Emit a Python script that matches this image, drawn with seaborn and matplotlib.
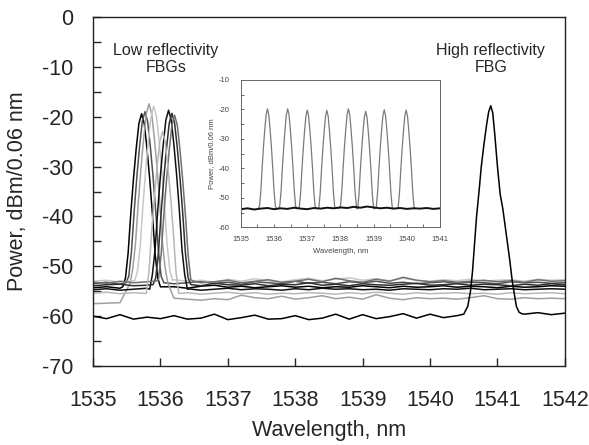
import numpy as np
import pandas as pd
import matplotlib
matplotlib.use("Agg")
import matplotlib.pyplot as plt
from matplotlib.ticker import MultipleLocator
import seaborn as sns

sns.set_style("ticks")
plt.rcParams['font.family'] = ['Liberation Sans', 'DejaVu Sans']
plt.rcParams['axes.unicode_minus'] = False

# --- data ---
# wavelength grid for the baselines of the main plot (nm)
grid = [1535.0, 1535.2, 1535.4, 1535.6, 1535.8, 1536.0, 1536.2, 1536.4, 1536.6,
        1536.8, 1537.0, 1537.2, 1537.4, 1537.6, 1537.8, 1538.0, 1538.2, 1538.4,
        1538.6, 1538.8, 1539.0, 1539.2, 1539.4, 1539.6, 1539.8, 1540.0, 1540.2,
        1540.4, 1540.6, 1540.8, 1541.0, 1541.2, 1541.4, 1541.6, 1541.8, 1542.0]

# peak shape of a low reflectivity FBG: offset from centre (nm), dB below apex
peak_dx = [-0.28, -0.24, -0.20, -0.16, -0.12, -0.08, -0.04, 0.0,
           0.04, 0.08, 0.12, 0.16, 0.20, 0.24, 0.28]
peak_drop = [36, 33, 28, 20, 13, 7, 2, 0, 2, 7, 13, 20, 28, 33, 36]

# low reflectivity FBG traces
lr_names = ['t1', 't2', 't3', 't4', 't5', 't6', 't7', 't8']
lr_centre = [1535.72, 1535.77, 1535.83, 1535.90, 1536.12, 1536.17, 1536.21, 1536.03]
lr_apex = [-19.4, -19.0, -17.4, -17.9, -18.7, -19.3, -19.7, -23.0]
lr_color = ['#000000', '#505050', '#a0a0a0', '#c8c8c8', '#101010', '#303030', '#707070', '#b8b8b8']

base_t1 = [-54.3, -54.1, -54.4, -54.2, -54.0, -54.3, -54.1, -54.4, -54.0, -53.8, -54.2, -54.0,
           -54.3, -54.1, -53.9, -54.2, -54.0, -54.3, -54.1, -54.2, -53.9, -54.1, -54.3, -54.0,
           -54.2, -54.1, -53.9, -54.2, -54.0, -54.1, -54.3, -54.0, -54.2, -54.1, -53.9, -54.0]
base_t2 = [-53.5, -53.2, -53.6, -53.3, -53.4, -53.1, -53.5, -53.3, -53.0, -53.4, -53.2, -53.6,
           -53.1, -53.3, -53.5, -53.0, -53.4, -53.2, -53.5, -53.1, -53.3, -53.0, -53.4, -53.2,
           -53.5, -53.3, -53.1, -53.4, -53.2, -53.3, -53.5, -53.1, -53.3, -53.2, -53.4, -53.3]
base_t3 = [-57.5, -57.4, -57.3, -57.4, -56.6, -56.2, -56.4, -56.6, -56.8, -56.5, -56.7, -55.8,
           -56.3, -56.5, -56.0, -56.6, -56.3, -55.9, -56.5, -56.2, -56.6, -55.7, -56.4, -56.7,
           -56.3, -56.5, -56.4, -56.6, -56.3, -55.9, -56.5, -56.6, -56.3, -56.5, -56.4, -56.5]
base_t4 = [-53.0, -52.8, -53.2, -52.9, -53.0, -53.1, -52.7, -53.0, -52.8, -53.2, -52.6, -53.0,
           -52.5, -52.9, -53.1, -52.7, -52.4, -52.9, -52.6, -52.3, -52.8, -52.5, -52.9, -52.4,
           -52.8, -53.0, -52.7, -52.9, -52.6, -53.0, -52.8, -52.7, -53.0, -52.6, -52.8, -52.7]
base_t5 = [-54.7, -54.5, -54.8, -54.6, -54.4, -54.7, -54.6, -54.5, -54.8, -54.6, -54.4, -54.7,
           -54.5, -54.6, -54.8, -54.5, -54.7, -54.4, -54.6, -54.5, -54.7, -54.6, -54.8, -54.5,
           -54.6, -54.7, -54.5, -54.6, -54.4, -54.7, -54.6, -54.5, -54.7, -54.6, -54.5, -54.6]
base_t6 = [-53.9, -53.7, -53.6, -53.9, -53.8, -53.5, -53.8, -53.6, -53.9, -53.4, -53.7, -53.8,
           -53.5, -53.9, -53.6, -53.7, -53.3, -53.8, -53.6, -53.9, -53.5, -53.7, -53.8, -53.6,
           -53.4, -53.8, -53.7, -53.5, -53.8, -53.6, -53.7, -53.9, -53.6, -53.8, -53.5, -53.7]
base_t7 = [-53.2, -53.4, -53.0, -53.3, -53.1, -53.4, -53.2, -52.9, -53.3, -53.1, -52.8, -53.3,
           -53.0, -52.7, -53.2, -53.0, -52.6, -53.1, -52.4, -52.9, -53.2, -52.6, -53.0, -52.2,
           -52.8, -53.1, -52.9, -53.2, -53.0, -52.8, -53.1, -52.9, -53.2, -52.7, -53.0, -52.9]
base_t8 = [-55.4, -55.2, -55.5, -55.3, -55.4, -55.6, -55.5, -55.3, -55.6, -55.4, -55.2, -55.5,
           -55.3, -55.6, -55.4, -55.5, -55.3, -55.4, -55.6, -55.3, -55.5, -55.2, -55.4, -55.6,
           -55.3, -55.5, -55.4, -55.3, -55.5, -55.4, -55.6, -55.3, -55.5, -55.4, -55.3, -55.5]
lr_bases = [base_t1, base_t2, base_t3, base_t4, base_t5, base_t6, base_t7, base_t8]

# high reflectivity FBG trace
base_hr = [-60.0, -60.5, -59.7, -60.6, -60.2, -60.5, -59.9, -60.6, -60.4, -59.6, -60.7, -60.3,
           -59.8, -60.6, -60.5, -59.9, -60.7, -60.4, -59.6, -60.6, -59.7, -60.5, -60.1, -59.5,
           -60.4, -59.6, -60.3, -59.9, -59.6, -59.6, -59.6, -59.6, -59.6, -59.3, -59.7, -59.4]
hr_x = [1540.50, 1540.56, 1540.60, 1540.63, 1540.66, 1540.69, 1540.73, 1540.76, 1540.80,
        1540.84, 1540.87, 1540.90, 1540.93, 1540.96, 1541.00, 1541.04, 1541.08, 1541.10,
        1541.14, 1541.18, 1541.22, 1541.25, 1541.28, 1541.32, 1541.36]
hr_y = [-59.6, -58.0, -55.0, -51.0, -45.5, -40.0, -34.5, -30.0, -25.5, -21.5, -19.0, -17.8,
        -19.2, -23.5, -30.0, -35.5, -38.5, -40.5, -44.5, -48.5, -53.0, -55.5, -58.0, -59.2, -59.5]

# inset: eight FBGs
in_grid = [1535.0, 1535.2, 1535.4, 1535.6, 1535.8, 1536.0, 1536.2, 1536.4, 1536.6, 1536.8,
           1537.0, 1537.2, 1537.4, 1537.6, 1537.8, 1538.0, 1538.2, 1538.4, 1538.6, 1538.8,
           1539.0, 1539.2, 1539.4, 1539.6, 1539.8, 1540.0, 1540.2, 1540.4, 1540.6, 1540.8, 1541.0]
in_base = [-53.8, -53.5, -53.9, -53.6, -53.4, -53.8, -53.5, -53.7, -53.3, -53.6, -53.8, -53.4,
           -53.6, -53.3, -53.5, -53.2, -53.4, -53.0, -53.3, -52.9, -53.2, -53.5, -53.3, -53.6,
           -53.4, -53.7, -53.5, -53.6, -53.4, -53.7, -53.5]
in_centre = [1535.80, 1536.41, 1537.00, 1537.59, 1538.24, 1538.76, 1539.32, 1539.98]
in_apex = [-19.8, -19.8, -20.2, -20.3, -19.8, -20.6, -20.1, -20.2]
in_floor = -53.6

# --- build long tables ---
rows = []
for name, c, a, base in zip(lr_names, lr_centre, lr_apex, lr_bases):
    for g, b in zip(grid, base):
        if g < c + peak_dx[0]:
            rows.append((name, g, b))
    for dx, d in zip(peak_dx, peak_drop):
        rows.append((name, c + dx, max(a - d, float(np.mean(base)))))
    for g, b in zip(grid, base):
        if g > c + peak_dx[-1]:
            rows.append((name, g, b))
for g, b in zip(grid, base_hr):
    if g < hr_x[0] or g > hr_x[-1]:
        rows.append(('hr', g, b))
for x, y in zip(hr_x, hr_y):
    rows.append(('hr', x, y))
main = pd.DataFrame(rows, columns=['trace', 'wl', 'power'])

palette = dict(zip(lr_names, lr_color))
palette['hr'] = '#000000'

in_rows = []
for i, (c, a) in enumerate(zip(in_centre, in_apex)):
    for dx, d in zip(peak_dx, peak_drop):
        in_rows.append((f'p{i}', c + dx, max(a - d, in_floor)))
inset = pd.DataFrame(in_rows, columns=['trace', 'wl', 'power'])
inset_base = pd.DataFrame({'wl': in_grid, 'power': in_base})

# --- figure ---
fig = plt.figure(figsize=(5.89, 4.45), dpi=100)
ax = fig.add_axes([0.158, 0.1775, 0.801, 0.7843])

sns.lineplot(data=main, x='wl', y='power', hue='trace', palette=palette,
             estimator=None, legend=False, linewidth=1.1, ax=ax)

ax.set_xlim(1535, 1542)
ax.set_ylim(-70, 0)
ax.xaxis.set_major_locator(MultipleLocator(1))
ax.yaxis.set_major_locator(MultipleLocator(10))
ax.yaxis.set_minor_locator(MultipleLocator(5))
ax.tick_params(axis='both', which='both', direction='in', length=6, width=1, labelsize=15.5)
ax.tick_params(axis='x', pad=17)
ax.tick_params(axis='y', pad=14)
ax.tick_params(axis='y', which='minor', length=6)
for s in ax.spines.values():
    s.set_linewidth(1.0)
    s.set_color('#222222')
ax.set_xlabel('Wavelength, nm', fontsize=15.5, labelpad=7)
ax.set_ylabel('Power, dBm/0.06 nm', fontsize=15.5, labelpad=10)

ax.text(1536.08, -8.5, 'Low reflectivity\nFBGs', ha='center', va='center',
        fontsize=11.5, linespacing=1.15)
ax.text(1540.9, -8.5, 'High reflectivity\nFBG', ha='center', va='center',
        fontsize=11.5, linespacing=1.15)

# inset
axi = fig.add_axes([0.409, 0.4888, 0.338, 0.3315])
axi.set_facecolor('white')
sns.lineplot(data=inset, x='wl', y='power', hue='trace',
             palette=['#7a7a7a'] * len(in_centre), estimator=None, legend=False,
             linewidth=0.9, ax=axi)
sns.lineplot(data=inset_base, x='wl', y='power', color='#111111', linewidth=1.4,
             estimator=None, ax=axi)
axi.set_xlim(1535, 1541)
axi.set_ylim(-60, -10)
axi.xaxis.set_major_locator(MultipleLocator(1))
axi.xaxis.set_minor_locator(MultipleLocator(0.5))
axi.yaxis.set_major_locator(MultipleLocator(10))
axi.yaxis.set_minor_locator(MultipleLocator(5))
axi.tick_params(axis='both', which='both', direction='in', length=2.5, width=0.6,
                labelsize=5.5, labelcolor='#444444', color='#555555')
axi.tick_params(axis='x', pad=6)
axi.tick_params(axis='y', pad=8)
for s in axi.spines.values():
    s.set_linewidth(0.7)
    s.set_color('#666666')
axi.set_xlabel('Wavelength, nm', fontsize=5.5, color='#444444', labelpad=4)
axi.set_ylabel('Power, dBm/0.06 nm', fontsize=5.5, color='#444444', labelpad=3)

fig.savefig('out.png', dpi=100)
